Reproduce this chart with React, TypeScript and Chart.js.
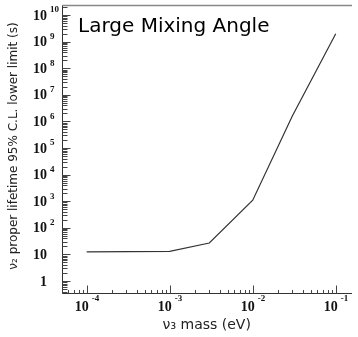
import React, { useEffect, useRef } from "react";
import { Chart, registerables } from "chart.js";

Chart.register(...registerables);

// ---- data ----
const massEV = [1e-4, 1e-3, 3e-3, 1e-2, 3e-2, 1e-1];
const lifetimeS = [12.5, 13, 27, 1100, 1.6e6, 2e9];

const xRange = [4.97e-5, 0.157];
const yRange = [0.355, 2.4e10];

const xLabelExponents = [-4, -3, -2, -1];
const yLabelExponents = [0, 1, 2, 3, 4, 5, 6, 7, 8, 9, 10];

const chartTitle = "Large Mixing Angle";
const xTitle = "ν₃ mass (eV)";
const yTitle = "ν₂ proper lifetime 95% C.L. lower limit (s)";

const rootAxes = {
  id: "rootAxes",
  afterDraw(chart: any) {
    const { ctx, chartArea: a, scales } = chart;
    const xs = scales.x;
    const ys = scales.y;
    const L = Math.round(a.left) + 0.5;
    const B = Math.round(a.bottom) + 0.5;
    const T = Math.round(a.top) + 0.5;
    const R = Math.round(a.right);
    ctx.save();
    // frame
    ctx.strokeStyle = "#888";
    ctx.lineWidth = 1.5;
    ctx.beginPath();
    ctx.moveTo(L, T);
    ctx.lineTo(R, T);
    ctx.stroke();
    ctx.strokeStyle = "#333";
    ctx.lineWidth = 1;
    ctx.beginPath();
    ctx.moveTo(L, T);
    ctx.lineTo(L, B);
    ctx.lineTo(R, B);
    ctx.stroke();

    // y ticks
    ctx.strokeStyle = "#444";
    ctx.beginPath();
    for (let n = -1; n <= 10; n++) {
      for (let m = 1; m <= 9; m++) {
        const v = m * Math.pow(10, n);
        if (v < ys.min || v > ys.max) continue;
        const py = Math.round(ys.getPixelForValue(v)) + 0.5;
        const len = m === 1 ? 8 : 5;
        ctx.moveTo(L, py);
        ctx.lineTo(L + len, py);
      }
    }
    // x ticks
    for (let n = -5; n <= -1; n++) {
      for (let m = 1; m <= 9; m++) {
        const v = m * Math.pow(10, n);
        if (v < xs.min || v > xs.max) continue;
        const px = Math.round(xs.getPixelForValue(v)) + 0.5;
        const len = m === 1 ? 8 : 3.5;
        ctx.moveTo(px, B);
        ctx.lineTo(px, B - len);
      }
    }
    ctx.stroke();

    // y labels
    ctx.fillStyle = "#111";
    for (const n of yLabelExponents) {
      const py = ys.getPixelForValue(Math.pow(10, n));
      ctx.font = "bold 14px 'Liberation Serif', serif";
      ctx.textAlign = "right";
      ctx.textBaseline = "middle";
      const mant = n === 0 ? "1" : "10";
      ctx.fillText(mant, 47, py + 1);
      if (n >= 2) {
        ctx.font = "bold 9px 'Liberation Serif', serif";
        ctx.textAlign = "left";
        ctx.fillText(String(n), 50, py - 5);
      }
    }
    // x labels
    for (const n of xLabelExponents) {
      const px = xs.getPixelForValue(Math.pow(10, n));
      ctx.font = "bold 14px 'Liberation Serif', serif";
      ctx.textAlign = "center";
      ctx.textBaseline = "middle";
      ctx.fillText("10", px - 5, 307);
      ctx.font = "bold 9px 'Liberation Serif', serif";
      ctx.textAlign = "left";
      ctx.fillText(String(n), px + 5, 299);
    }

    // titles
    ctx.font = "20px 'DejaVu Sans', sans-serif";
    ctx.textAlign = "left";
    ctx.textBaseline = "alphabetic";
    ctx.fillStyle = "#000";
    ctx.fillText(chartTitle, 78, 32);

    ctx.font = "14px 'DejaVu Sans', sans-serif";
    ctx.textAlign = "center";
    ctx.textBaseline = "middle";
    ctx.fillStyle = "#222";
    ctx.fillText(xTitle, (a.left + a.right) / 2, 325);

    ctx.save();
    ctx.translate(14, 146);
    ctx.rotate(-Math.PI / 2);
    ctx.font = "12px 'DejaVu Sans', sans-serif";
    ctx.fillText(yTitle, 0, 0);
    ctx.restore();

    ctx.restore();
  },
};

export default function App() {
  const ref = useRef<HTMLCanvasElement | null>(null);
  useEffect(() => {
    if (!ref.current) return;
    const chart = new Chart(ref.current, {
      type: "line",
      data: {
        datasets: [
          {
            data: massEV.map((x, i) => ({ x, y: lifetimeS[i] })),
            borderColor: "#333",
            borderWidth: 1.2,
            pointRadius: 0,
            tension: 0,
            fill: false,
          },
        ],
      },
      options: {
        animation: false,
        responsive: false,
        layout: { padding: { left: 61.5, top: 5, right: 6, bottom: 44 } },
        plugins: { legend: { display: false }, tooltip: { enabled: false }, title: { display: false } },
        scales: {
          x: { type: "logarithmic", min: xRange[0], max: xRange[1], display: false },
          y: { type: "logarithmic", min: yRange[0], max: yRange[1], display: false },
        },
      },
      plugins: [rootAxes],
    });
    return () => chart.destroy();
  }, []);
  return (
    <div style={{ position: "absolute", left: 0, top: 0, width: 358, height: 337, background: "#fff" }}>
      <canvas ref={ref} width={358} height={337} style={{ display: "block" }} />
    </div>
  );
}
